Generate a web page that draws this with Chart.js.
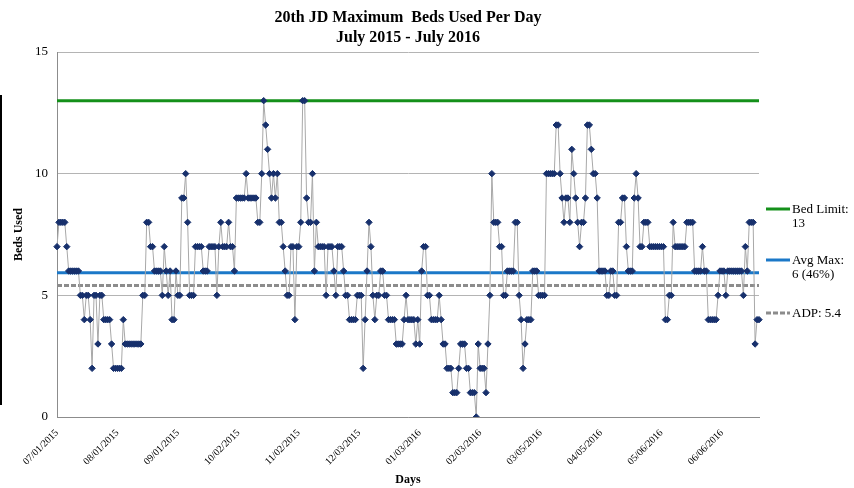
<!DOCTYPE html>
<html>
<head>
<meta charset="utf-8">
<title>20th JD Maximum Beds Used Per Day</title>
<script src="https://cdn.jsdelivr.net/npm/chart.js@4.4.1/dist/chart.umd.min.js"></script>
<style>
	html, body { margin: 0; padding: 0; background: #fff; }
	#wrap { position: relative; width: 854px; height: 488px; }
	#edge { position: absolute; left: 0; top: 95px; width: 2px; height: 310px; background: #000; }
</style>
</head>
<body>
<div id="wrap">
	<canvas id="beds-chart" width="854" height="488"></canvas>
	<div id="edge"></div>
</div>
<script>
var serif = "'Liberation Serif', 'Times New Roman', serif";

// max beds used, one value per day from 07/01/2015
var bedsUsed = [
	7,8,8,8,8,7,6,6,6,6,6,6,5,5,4,5,5,4,2,5,5,3,5,5,4,4,4,4,3,2,2,
	2,2,2,4,3,3,3,3,3,3,3,3,3,5,5,8,8,7,7,6,6,6,6,5,7,6,5,6,4,4,6,
	5,5,9,9,10,8,5,5,5,7,7,7,7,6,6,6,7,7,7,7,5,7,8,7,7,7,8,7,7,6,9,
	9,9,9,9,10,9,9,9,9,9,8,8,10,13,12,11,10,9,10,9,10,8,8,7,6,5,5,7,7,4,7,7,
	8,13,13,9,8,8,10,6,8,7,7,7,7,5,7,7,7,6,5,7,7,7,6,5,5,4,4,4,4,5,
	5,5,2,4,6,8,7,5,4,5,5,6,6,5,5,4,4,4,4,3,3,3,3,4,5,4,4,4,4,3,
	4,3,6,7,7,5,5,4,4,4,4,5,4,3,3,2,2,2,1,1,1,2,3,3,3,2,2,1,1,1,0,
	3,2,2,2,1,3,5,10,8,8,8,7,7,5,5,6,6,6,6,8,8,5,4,2,3,4,4,4,6,6,6,5,
	5,5,5,10,10,10,10,10,12,12,10,9,8,9,9,8,11,10,9,8,7,8,8,9,12,12,11,10,10,9,6,
	6,6,6,5,5,6,6,5,5,8,8,9,9,7,6,6,6,9,10,9,7,7,8,8,8,7,7,7,7,
	7,7,7,7,4,4,5,5,8,7,7,7,7,7,7,8,8,8,8,6,6,6,6,7,6,6,4,4,4,4,4,5,6,
	6,6,5,6,6,6,6,6,6,6,6,5,7,6,8,8,8,3,4,4
];

var bedLimit = 13;
var avgMax = 5.93;
var adp = 5.4;

var titleLines = ['20th JD Maximum  Beds Used Per Day', 'July 2015 - July 2016'];
var legendLines = [
	['Bed Limit:', '13'],
	['Avg Max:', '6 (46%)'],
	['ADP: 5.4']
];
var labelEvery = 31;

function pad(n) {
	return n < 10 ? '0' + n : '' + n;
}

var days = [];
var day = new Date(2015, 6, 1);
for (var i = 0; i < bedsUsed.length; i++) {
	days.push(pad(day.getMonth() + 1) + '/' + pad(day.getDate()) + '/' + day.getFullYear());
	day.setDate(day.getDate() + 1);
}

function refLine(value) {
	return [{ x: days[0], y: value }, { x: days[days.length - 1], y: value }];
}

var refColors = ['#14901a', '#1b78c8', '#8c8c8c'];

// right hand legend, drawn next to the plot
var sideLegend = {
	id: 'sideLegend',
	afterDraw: function (chart) {
		var ctx = chart.ctx,
			rows = [209, 260, 313];
		ctx.save();
		ctx.font = '13px ' + serif;
		ctx.fillStyle = '#000';
		ctx.textBaseline = 'middle';
		for (var i = 0; i < legendLines.length; i++) {
			ctx.beginPath();
			ctx.strokeStyle = refColors[i];
			ctx.lineWidth = 3;
			ctx.setLineDash(i === 2 ? [5, 2] : []);
			ctx.moveTo(766, rows[i]);
			ctx.lineTo(790, rows[i]);
			ctx.stroke();
			for (var j = 0; j < legendLines[i].length; j++) {
				ctx.fillText(legendLines[i][j], 792, rows[i] + 1 + j * 14);
			}
		}
		ctx.restore();
	}
};

var ctxL = document.getElementById('beds-chart').getContext('2d');
var bedsChart = new Chart(ctxL, {
	type: 'line',
	data: {
		labels: days,
		datasets: [
			{
				label: 'Beds Used',
				data: bedsUsed,
				borderColor: '#a8a8a8',
				borderWidth: 1,
				pointStyle: 'rectRot',
				pointRadius: 3.2,
				pointBackgroundColor: '#17306c',
				pointBorderColor: '#17306c',
				pointBorderWidth: 1,
				order: 0
			},
			{
				label: 'Bed Limit',
				data: refLine(bedLimit),
				borderColor: refColors[0],
				borderWidth: 3,
				pointRadius: 0,
				order: 1
			},
			{
				label: 'Avg Max',
				data: refLine(avgMax),
				borderColor: refColors[1],
				borderWidth: 3,
				pointRadius: 0,
				order: 1
			},
			{
				label: 'ADP',
				data: refLine(adp),
				borderColor: refColors[2],
				borderWidth: 3,
				borderDash: [5, 2],
				pointRadius: 0,
				order: 1
			}
		]
	},
	options: {
		responsive: false,
		animation: false,
		devicePixelRatio: 1,
		layout: {
			padding: { top: 8, right: 95, bottom: 0, left: 0 }
		},
		plugins: {
			legend: { display: false },
			tooltip: { enabled: false },
			title: {
				display: true,
				fullSize: false,
				text: titleLines,
				color: '#000',
				font: { family: serif, size: 16, weight: 'bold', lineHeight: 1.25 },
				padding: { top: 0, bottom: 4 }
			}
		},
		scales: {
			x: {
				offset: false,
				grid: { display: false },
				border: { display: true, color: '#8c8c8c' },
				ticks: {
					autoSkip: false,
					minRotation: 45,
					maxRotation: 45,
					padding: 2,
					color: '#000',
					font: { family: serif, size: 10 },
					callback: function (val, idx) {
						return idx % labelEvery === 0 ? this.getLabelForValue(val) : '';
					}
				},
				title: {
					display: true,
					text: 'Days',
					color: '#000',
					font: { family: serif, size: 12, weight: 'bold' },
					padding: { top: 0, bottom: 1 }
				},
				afterFit: function (scale) {
					scale.height = 71;
				}
			},
			y: {
				min: 0,
				max: 15,
				grid: { color: '#b4b4b4', drawTicks: false },
				border: { display: true, color: '#8c8c8c' },
				ticks: {
					stepSize: 5,
					padding: 9,
					color: '#000',
					font: { family: serif, size: 13 }
				},
				title: {
					display: true,
					text: 'Beds Used',
					color: '#000',
					font: { family: serif, size: 12, weight: 'bold' },
					padding: { top: 12, bottom: 0 }
				},
				afterFit: function (scale) {
					scale.width = 57;
				}
			}
		}
	},
	plugins: [sideLegend]
});
</script>
</body>
</html>
